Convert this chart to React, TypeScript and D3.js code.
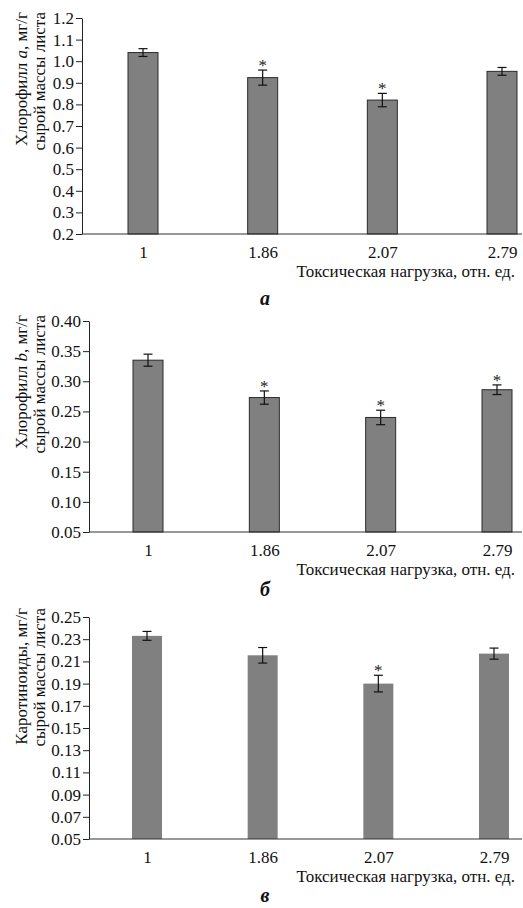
import * as d3 from "d3";
import { useEffect, useRef } from "react";

// toxic load, rel. units
const doses = ["1", "1.86", "2.07", "2.79"];

// chlorophyll a
const chlA = [1.04, 0.924, 0.82, 0.953];
const chlAErr = [0.018, 0.035, 0.031, 0.018];
const chlASig = [false, true, true, false];
const ticksA = [0.2, 0.3, 0.4, 0.5, 0.6, 0.7, 0.8, 0.9, 1.0, 1.1, 1.2];

// chlorophyll b
const chlB = [0.335, 0.273, 0.24, 0.286];
const chlBErr = [0.01, 0.011, 0.012, 0.008];
const chlBSig = [false, true, true, true];
const ticksB = [0.05, 0.1, 0.15, 0.2, 0.25, 0.3, 0.35, 0.4];

// carotenoids
const car = [0.233, 0.2155, 0.19, 0.217];
const carErr = [0.004, 0.007, 0.0075, 0.005];
const carSig = [false, false, true, false];
const ticksC = [0.05, 0.07, 0.09, 0.11, 0.13, 0.15, 0.17, 0.19, 0.21, 0.23, 0.25];

const xTitle = "Токсическая нагрузка, отн. ед.";

export default function App() {
  const ref = useRef<SVGSVGElement>(null);

  useEffect(() => {
    const font = "Liberation Serif, serif";
    const svg = d3.select(ref.current);
    svg.selectAll("*").remove();

    const panels = [
      {
        values: chlA, errs: chlAErr, sig: chlASig, ticks: ticksA, fmt: ".1f",
        label: ["Хлорофилл ", "a", ", мг/г"], letter: "а",
        axisX: 82, top: 18, bottom: 234, xr: [143, 502], outline: true,
        labelTop: 12, letterY: 305,
      },
      {
        values: chlB, errs: chlBErr, sig: chlBSig, ticks: ticksB, fmt: ".2f",
        label: ["Хлорофилл ", "b", ", мг/г"], letter: "б",
        axisX: 89, top: 321, bottom: 532, xr: [148, 497], outline: true,
        labelTop: 315, letterY: 596,
      },
      {
        values: car, errs: carErr, sig: carSig, ticks: ticksC, fmt: ".2f",
        label: ["Каротиноиды, мг/г", "", ""], letter: "в",
        axisX: 89, top: 617, bottom: 839, xr: [147, 494], outline: false,
        labelTop: 608, letterY: 902,
      },
    ];

    panels.forEach((p) => {
      const y = d3
        .scaleLinear()
        .domain([p.ticks[0], p.ticks[p.ticks.length - 1]])
        .range([p.bottom, p.top]);
      const x = d3.scalePoint().domain(doses).range(p.xr);
      const bw = 30;
      const g = svg.append("g").style("font-family", font);

      // bars
      g.selectAll("rect")
        .data(p.values)
        .join("rect")
        .attr("x", (d, i) => (x(doses[i]) as number) - bw / 2)
        .attr("y", (d) => y(d))
        .attr("width", bw)
        .attr("height", (d) => p.bottom - y(d))
        .attr("fill", "#808080")
        .attr("stroke", p.outline ? "#2a2a2a" : "none")
        .attr("stroke-width", 1);

      // error bars
      const eb = g
        .selectAll("g.err")
        .data(p.values)
        .join("g")
        .attr("class", "err")
        .attr("stroke", "#111")
        .attr("stroke-width", 1.2);
      eb.append("line")
        .attr("x1", (d, i) => x(doses[i]) as number)
        .attr("x2", (d, i) => x(doses[i]) as number)
        .attr("y1", (d, i) => y(d + p.errs[i]))
        .attr("y2", (d, i) => y(d - p.errs[i]));
      eb.append("line")
        .attr("x1", (d, i) => (x(doses[i]) as number) - 4.5)
        .attr("x2", (d, i) => (x(doses[i]) as number) + 4.5)
        .attr("y1", (d, i) => y(d + p.errs[i]))
        .attr("y2", (d, i) => y(d + p.errs[i]));
      eb.append("line")
        .attr("x1", (d, i) => (x(doses[i]) as number) - 4.5)
        .attr("x2", (d, i) => (x(doses[i]) as number) + 4.5)
        .attr("y1", (d, i) => y(d - p.errs[i]))
        .attr("y2", (d, i) => y(d - p.errs[i]));

      // significance marks
      g.selectAll("text.star")
        .data(p.values.map((d, i) => ({ d, i })).filter((o) => p.sig[o.i]))
        .join("text")
        .attr("class", "star")
        .attr("x", (o) => x(doses[o.i]) as number)
        .attr("y", (o) => y(o.d + p.errs[o.i]) + 1)
        .attr("text-anchor", "middle")
        .style("font-family", font)
        .attr("font-size", 17)
        .attr("fill", "#222")
        .text("*");

      // y axis
      g.append("g")
        .attr("transform", `translate(${p.axisX},0)`)
        .call(
          d3
            .axisLeft(y)
            .tickValues(p.ticks)
            .tickFormat(d3.format(p.fmt))
            .tickSize(6)
            .tickSizeOuter(0)
            .tickPadding(2)
        )
        .attr("font-family", null)
        .call((s) => s.select(".domain").attr("stroke", "#222"))
        .call((s) => s.selectAll(".tick line").attr("stroke", "#222"))
        .call((s) =>
          s
            .selectAll(".tick text")
            .style("font-family", font)
            .attr("font-size", 17)
            .attr("fill", "#111")
        );

      // baseline
      g.append("line")
        .attr("x1", p.axisX)
        .attr("x2", 522)
        .attr("y1", p.bottom)
        .attr("y2", p.bottom)
        .attr("stroke", "#333")
        .attr("stroke-width", 1.2);

      // x labels
      g.append("g")
        .attr("transform", `translate(0,${p.bottom})`)
        .call(d3.axisBottom(x).tickSize(0).tickPadding(12))
        .attr("font-family", null)
        .call((s) => s.select(".domain").remove())
        .call((s) =>
          s
            .selectAll(".tick text")
            .style("font-family", font)
            .attr("font-size", 17)
            .attr("fill", "#111")
        );

      g.append("text")
        .attr("x", 515)
        .attr("y", p.bottom + 43)
        .attr("text-anchor", "end")
        .style("font-family", font)
        .attr("font-size", 17)
        .attr("fill", "#111")
        .text(xTitle);

      g.append("text")
        .attr("x", 265)
        .attr("y", p.letterY)
        .attr("text-anchor", "middle")
        .style("font-family", font)
        .attr("font-size", 20)
        .attr("font-weight", "bold")
        .attr("font-style", "italic")
        .attr("fill", "#111")
        .text(p.letter);

      // y label, two lines
      const t1 = g
        .append("text")
        .attr("transform", `translate(27,${p.labelTop}) rotate(-90)`)
        .attr("text-anchor", "end")
        .style("font-family", font)
        .attr("font-size", 17)
        .attr("fill", "#111");
      t1.append("tspan").text(p.label[0]);
      if (p.label[1]) {
        t1.append("tspan").attr("font-style", "italic").text(p.label[1]);
        t1.append("tspan").text(p.label[2]);
      }
      g.append("text")
        .attr("transform", `translate(45,${p.labelTop}) rotate(-90)`)
        .attr("text-anchor", "end")
        .style("font-family", font)
        .attr("font-size", 17)
        .attr("fill", "#111")
        .text("сырой массы листа");
    });
  }, []);

  return (
    <svg
      ref={ref}
      width={523}
      height={908}
      style={{ position: "absolute", left: 0, top: 0, background: "#fff" }}
    />
  );
}
